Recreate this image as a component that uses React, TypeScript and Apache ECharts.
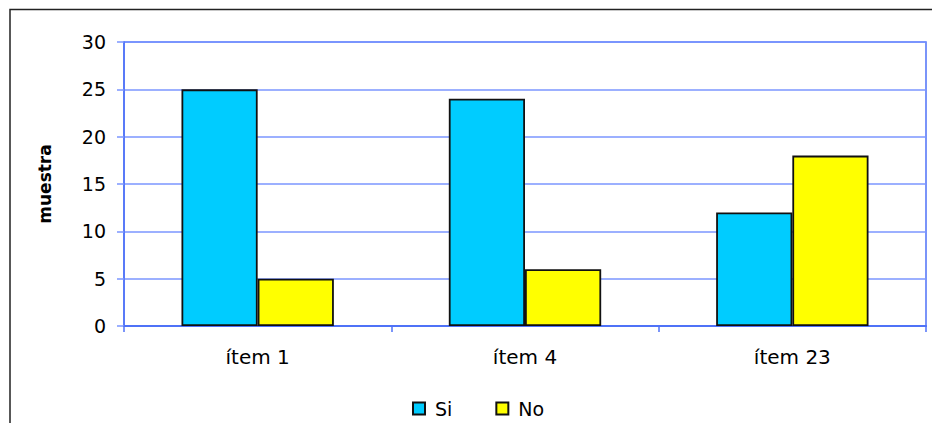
import React, { useEffect, useRef } from "react";
import * as echarts from "echarts";

const categories = ["ítem 1", "ítem 4", "ítem 23"];
const siValues = [25, 24, 12];
const noValues = [5, 6, 18];
const seriesNames = ["Si", "No"];

export default function App() {
  const ref = useRef<HTMLDivElement>(null);
  useEffect(() => {
    if (!ref.current) return;
    const chart = echarts.init(ref.current, null, { renderer: "svg" });
    const font = "'DejaVu Sans', Arial, sans-serif";
    chart.setOption({
      animation: false,
      backgroundColor: "#ffffff",
      textStyle: { fontFamily: font },
      graphic: [
        {
          type: "rect",
          shape: { x: 10, y: 9.5, width: 1000, height: 500 },
          style: { fill: "none", stroke: "#222", lineWidth: 1.5 },
          silent: true,
        },
      ],
      grid: {
        left: 124,
        right: 6,
        top: 42,
        bottom: 97,
        show: true,
        borderColor: "#4f72f7",
        borderWidth: 1.5,
        backgroundColor: "transparent",
      },
      legend: {
        data: seriesNames,
        left: 412,
        top: 399,
        padding: 0,
        itemWidth: 12,
        itemHeight: 12,
        itemGap: 43,
        icon: "rect",
        textStyle: { fontFamily: font, fontSize: 19, lineHeight: 19, color: "#000", padding: [0, 0, 0, 5] },
      },
      xAxis: {
        type: "category",
        data: categories,
        axisLine: { lineStyle: { color: "#4f72f7", width: 2 } },
        axisTick: { show: true, length: 6, lineStyle: { color: "#4f72f7", width: 1.5 } },
        axisLabel: { fontFamily: font, fontSize: 20, color: "#000", margin: 21 },
        splitLine: { show: false },
      },
      yAxis: {
        type: "value",
        min: 0,
        max: 30,
        interval: 5,
        name: "muestra",
        nameLocation: "middle",
        nameGap: 71,
        nameRotate: 90,
        nameTextStyle: { fontFamily: font, fontSize: 17, fontWeight: "bold", color: "#000" },
        axisLine: { show: true, lineStyle: { color: "#4f72f7", width: 1.5 } },
        axisTick: { show: true, length: 7, lineStyle: { color: "#7b96ff", width: 1.5 } },
        axisLabel: { fontFamily: font, fontSize: 19, color: "#000", margin: 18 },
        splitLine: { show: true, lineStyle: { color: "#7b96ff", width: 1.5 } },
      },
      series: [
        {
          name: seriesNames[0],
          type: "bar",
          data: siValues,
          barGap: "0%",
          barCategoryGap: "43%",
          itemStyle: { color: "#00ccff", borderColor: "#111", borderWidth: 1.8 },
        },
        {
          name: seriesNames[1],
          type: "bar",
          data: noValues,
          itemStyle: { color: "#ffff00", borderColor: "#111", borderWidth: 1.8 },
        },
      ],
    });
    return () => chart.dispose();
  }, []);
  return (
    <div
      ref={ref}
      style={{ position: "absolute", left: 0, top: 0, width: 932, height: 423 }}
    />
  );
}
